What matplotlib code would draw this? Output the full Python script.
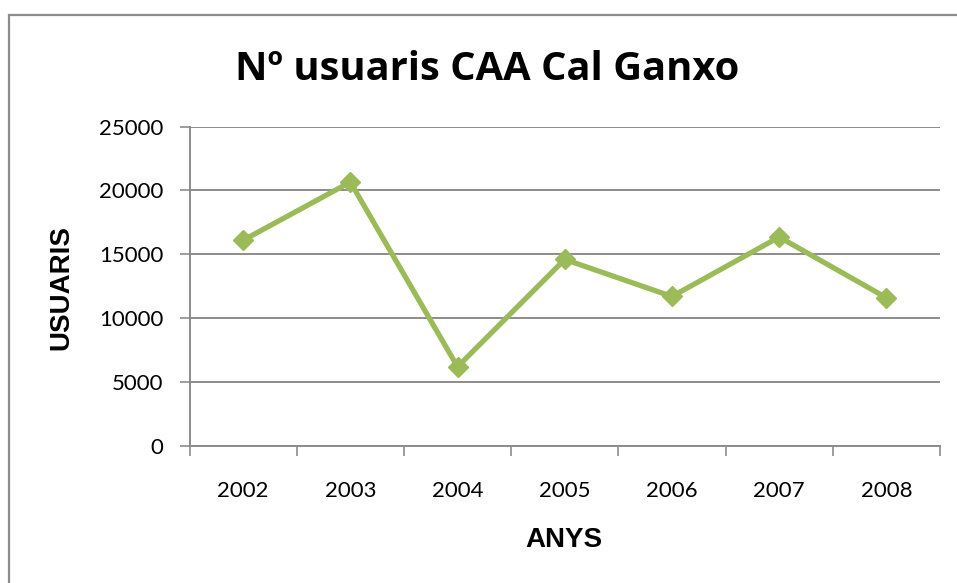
import matplotlib
matplotlib.use("Agg")
import matplotlib.pyplot as plt
from matplotlib.patches import Rectangle

years = ["2002", "2003", "2004", "2005", "2006", "2007", "2008"]
usuaris = [16100, 20650, 6200, 14600, 11700, 16350, 11600]
yticks = [0, 5000, 10000, 15000, 20000, 25000]

W, H = 957, 583
fig = plt.figure(figsize=(W / 100, H / 100), dpi=100)
fig.patch.set_facecolor("white")

# outer chart frame
fig.patches.append(Rectangle((9 / W, -0.05), 1.1, (H - 15) / H + 0.05,
                             transform=fig.transFigure, fill=False,
                             edgecolor="#8c8c8c", linewidth=1.6))

ax = fig.add_axes([189.5 / W, (H - 446) / H, 750.5 / W, (446 - 126.5) / H])
x = list(range(len(years)))
ax.plot(x, usuaris, color="#9BBB59", linewidth=3.8, marker="D",
        markersize=10, markerfacecolor="#9BBB59", markeredgecolor="#9BBB59",
        zorder=3, clip_on=False)

ax.set_xlim(-0.5, len(years) - 0.5)
ax.set_ylim(0, 25000)
ax.set_yticks(yticks)
ax.set_yticklabels([str(v) for v in yticks], fontfamily="Lato", fontsize=16)
ax.set_xticks([i - 0.5 for i in range(len(years) + 1)], minor=False)
ax.set_xticklabels([])
ax.set_xticks(x, minor=True)
ax.set_xticklabels(years, minor=True, fontfamily="Lato", fontsize=16)
ax.tick_params(axis="x", which="minor", length=0, pad=25)
ax.tick_params(axis="x", which="major", length=7, color="#8c8c8c", width=1.2)
ax.tick_params(axis="y", length=7, color="#8c8c8c", width=1.2, pad=12)

ax.grid(axis="y", color="#8c8c8c", linewidth=1.4)
ax.set_axisbelow(True)
for s in ["top", "right"]:
    ax.spines[s].set_visible(False)
for s in ["left", "bottom"]:
    ax.spines[s].set_color("#8c8c8c")
    ax.spines[s].set_linewidth(1.4)

fig.text(487.5 / W, 1 - 80 / H, "Nº usuaris CAA Cal Ganxo", ha="center",
         va="baseline", fontsize=28.7, fontweight="bold",
         fontfamily="Open Sans")
fig.text(61 / W, 1 - 287.5 / H, "USUARIS", rotation=90, ha="center",
         va="center", fontsize=20, fontweight="bold",
         fontfamily="Liberation Sans")
fig.text(563.5 / W, 1 - 540 / H, "ANYS", ha="center", va="center",
         fontsize=20, fontweight="bold", fontfamily="Liberation Sans")

fig.savefig("out.png", dpi=100, facecolor="white")
